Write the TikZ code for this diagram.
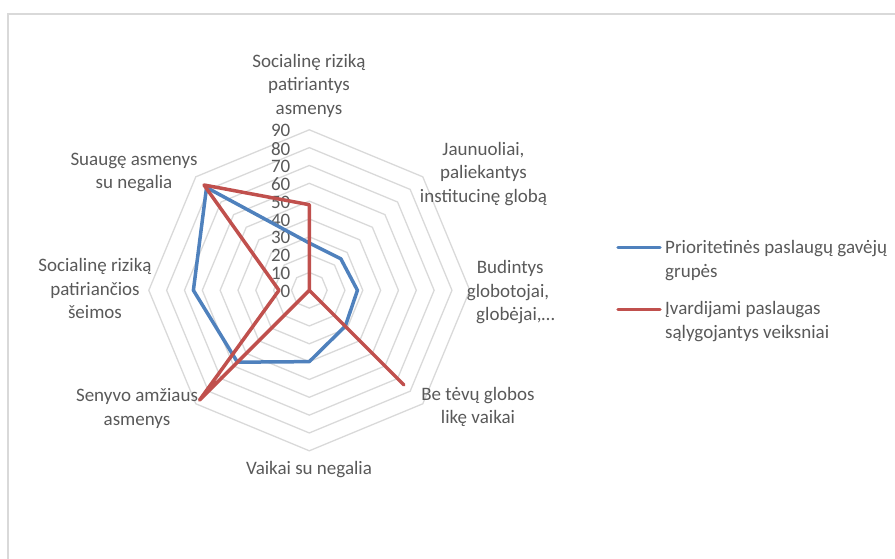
\documentclass[tikz,border=0pt]{standalone}
\usepackage{fontspec}
\setmainfont{Carlito}
\definecolor{txt}{RGB}{89,89,89}
\definecolor{gridc}{RGB}{217,217,217}
\definecolor{sblue}{RGB}{79,129,189}
\definecolor{sred}{RGB}{192,80,77}
\newcommand\rs{1.7833}
\begin{document}
\begin{tikzpicture}[x=1pt,y=-1pt,
  lbl/.style={font=\fontsize{19}{23.5}\selectfont, text=txt, align=center, inner sep=0pt},
  tick/.style={font=\fontsize{19}{23.5}\selectfont, text=txt, anchor=east, inner sep=0pt},
  gridline/.style={draw=gridc, line width=1.3pt},
  ser/.style={line width=3.5pt, line join=round, line cap=round}]
\useasboundingbox (0,0) rectangle (895,559);
\draw[gridc, line width=1.3pt] (8,559) -- (8,14) -- (895,14);
\begin{scope}[shift={(309.3,290.3)}]
  \foreach \i in {1,...,9}{
    \pgfmathsetmacro\r{\i*17.833}
    \draw[gridline] (-90:\r) -- (-45:\r) -- (0:\r) -- (45:\r) -- (90:\r) -- (135:\r) -- (180:\r) -- (225:\r) -- cycle;
  }
  \foreach \v in {0,10,...,90}{
    \node[tick] (tick\v) at (-18.8,{-\v*\rs+1}) {\v};
  }
  % series
  \draw[ser, sblue] (-90:{26.5*\rs}) -- (-45:{25*\rs}) -- (0:{27*\rs}) -- (45:{28.5*\rs}) -- (90:{40*\rs}) -- (135:{57*\rs}) -- (180:{65*\rs}) -- (225:{81.5*\rs}) -- cycle;
  \draw[ser, sred] (-90:{48*\rs}) -- (-45:0) -- (0:0) -- (45:{75*\rs}) -- (90:0) -- (135:{87*\rs}) -- (180:{17*\rs}) -- (225:{83.5*\rs}) -- cycle;
\end{scope}
% axis labels
\node[lbl] (a1) at (309,86) {\strut Socialinę riziką\\\strut patiriantys\\\strut asmenys};
\node[lbl] (a2) at (483.5,174) {\strut Jaunuoliai,\\\strut paliekantys\\\strut institucinę globą};
\node[lbl, align=left, anchor=north west] (a3) at (466.7,257.3) {\hspace*{10pt}\strut Budintys\\\strut globotojai,\\\hspace*{9.3pt}\strut globėjai,…};
\node[lbl] (a4) at (478,407.5) {\strut Be tėvų globos\\\strut likę vaikai};
\node[lbl] (a5) at (309,469.5) {\strut Vaikai su negalia};
\node[lbl] (a6) at (137,409) {\strut Senyvo amžiaus\\\strut asmenys};
\node[lbl] (a7) at (95,290.5) {\strut Socialinę riziką\\\strut patiriančios\\\strut šeimos};
\node[lbl] (a8) at (134,172.5) {\strut Suaugę asmenys\\\strut su negalia};
% legend
\coordinate (lb1) at (618,247.3);
\coordinate (lb2) at (660,247.3);
\coordinate (lr1) at (618,309.3);
\coordinate (lr2) at (660,309.3);
\draw[ser, sblue] (lb1) -- (lb2);
\draw[ser, sred] (lr1) -- (lr2);
\node[lbl, align=left, anchor=north west] (legb) at (665,237) {\strut Prioritetinės paslaugų gavėjų\\\strut grupės};
\node[lbl, align=left, anchor=north west] (legr) at (665,298) {\strut Įvardijami paslaugas\\\strut sąlygojantys veiksniai};
\end{tikzpicture}
\end{document}
